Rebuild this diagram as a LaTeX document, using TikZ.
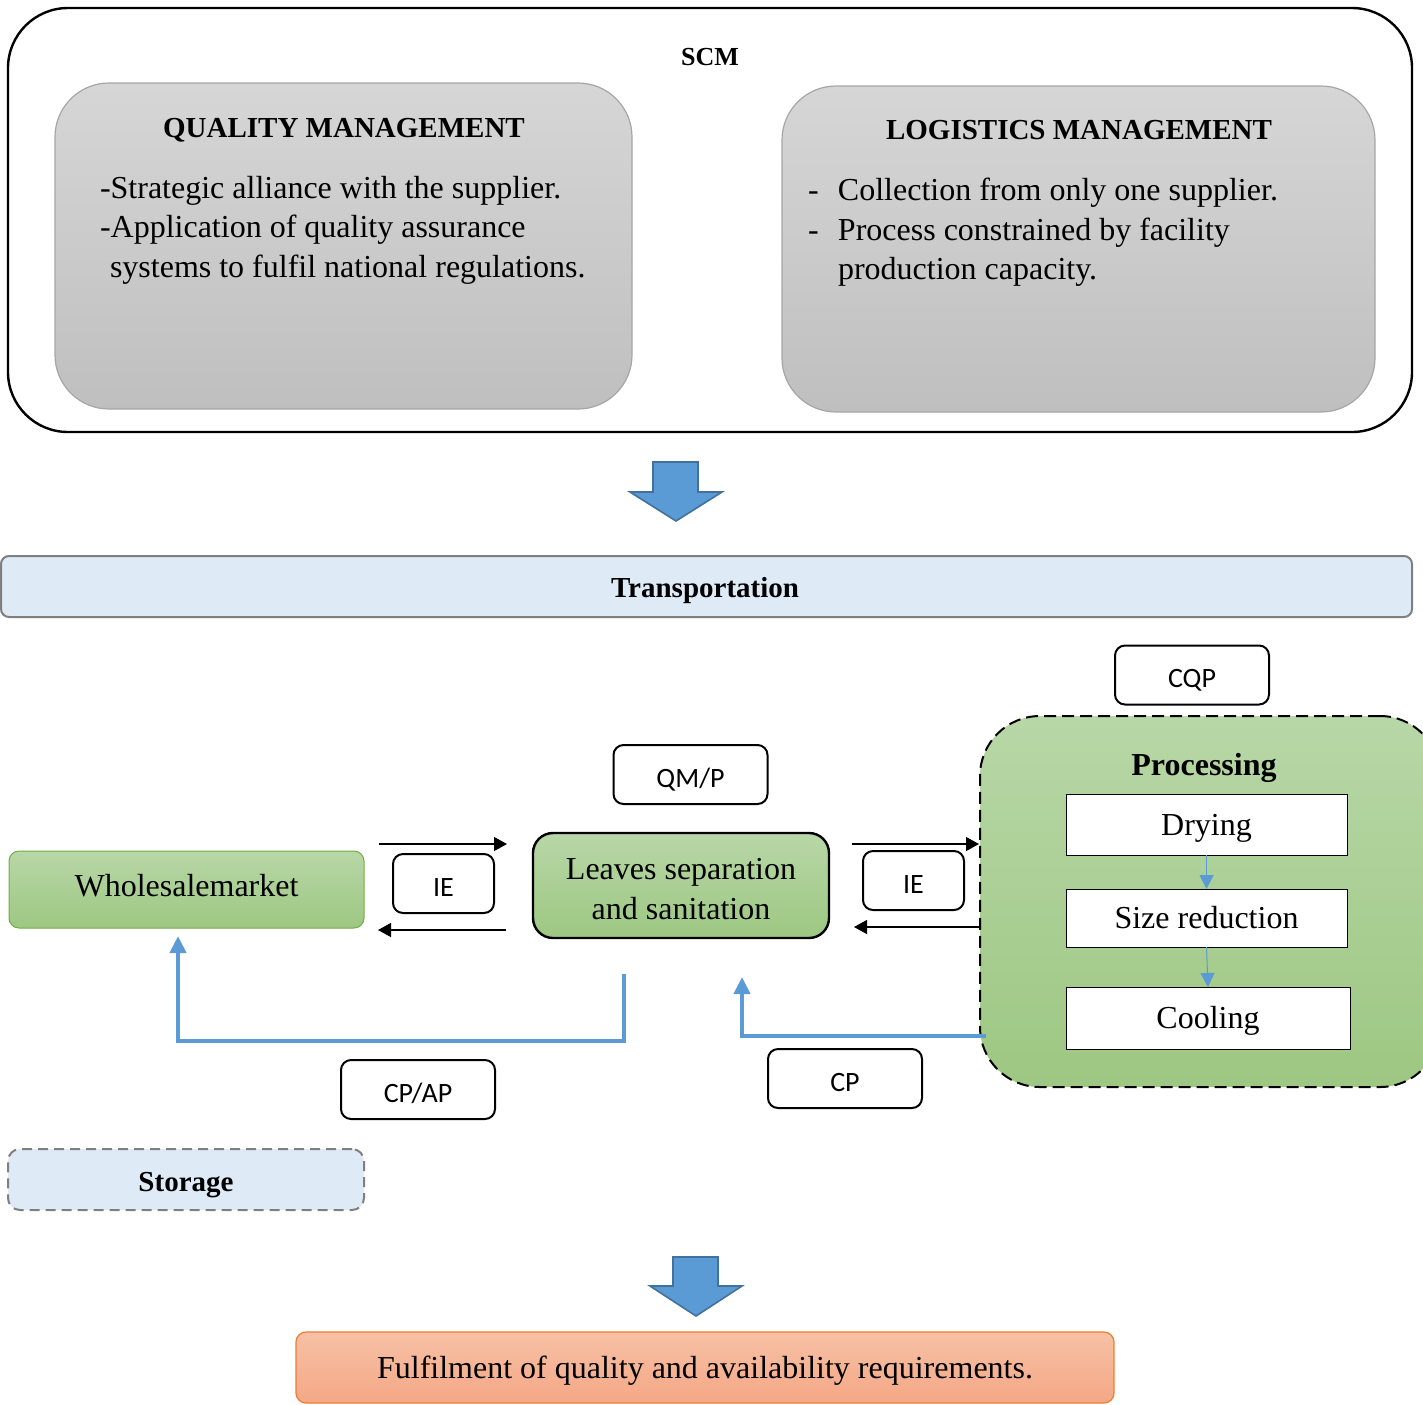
\documentclass[tikz,border=0pt]{standalone}
\usepackage{fontspec}
\setmainfont{Liberation Serif}
\newfontfamily\labfont{Carlito}
\usetikzlibrary{arrows.meta}
\definecolor{blu}{RGB}{91,155,213}
\definecolor{bluedge}{RGB}{65,113,156}
\definecolor{ltblue}{RGB}{222,234,246}
\definecolor{grtop}{RGB}{184,215,167}
\definecolor{grbot}{RGB}{157,199,130}
\definecolor{grline}{RGB}{112,173,71}
\definecolor{gytop}{RGB}{214,214,214}
\definecolor{gybot}{RGB}{191,191,191}
\definecolor{gyline}{RGB}{166,166,166}
\definecolor{ortop}{RGB}{247,192,165}
\definecolor{orbot}{RGB}{244,168,134}
\definecolor{orline}{RGB}{237,125,49}
\definecolor{frame}{RGB}{127,127,127}
\begin{document}
\begin{tikzpicture}[x=0.5pt,y=-0.5pt,
  every node/.style={inner sep=0pt,outer sep=0pt},
  txt/.style={font=\fontsize{16}{20}\selectfont, text height=11pt, text depth=0.5pt},
  ttl/.style={font=\fontsize{14.5}{18}\selectfont\bfseries, text height=10pt, text depth=0pt},
  scmbox/.style={draw=black, line width=1.2pt, rounded corners=30pt},
  graybox/.style={draw=gyline, line width=0.6pt, rounded corners=27pt, top color=gytop, bottom color=gybot},
  lab/.style={draw=black, line width=1pt, rounded corners=5pt, fill=white, minimum width=77pt, minimum height=29.5pt, font=\labfont\fontsize{14}{16}\selectfont},
  labtext/.style={font=\labfont\fontsize{14}{16}\selectfont, text height=9pt, text depth=0pt, yshift=-1.75pt},
  greenbox/.style={top color=grtop, bottom color=grbot},
  stepbox/.style={draw=black, line width=0.5pt, fill=white},
  steptext/.style={font=\fontsize{16}{20}\selectfont, text height=11pt, text depth=0.5pt},
  blk/.style={-{Triangle[length=6.5pt,width=7pt]}, line width=0.6pt, black},
  blueline/.style={-{Triangle[length=8.5pt,width=8pt]}, line width=2pt, blu},
  smallblue/.style={-{Triangle[length=7pt,width=7pt]}, line width=0.5pt, blu},
  bigarrow/.style={fill=blu, draw=bluedge, line width=0.8pt, line join=miter},
]
\useasboundingbox (0,0) rectangle (1423,1404);

% SCM frame
\node[scmbox, minimum width=702pt, minimum height=212pt] (scm) at (710,220) {};
\node[font=\fontsize{13}{15}\selectfont\bfseries, text height=9pt, text depth=0pt] (scmtitle) at (710,56) {SCM};

% Quality management
\node[graybox, minimum width=288.5pt, minimum height=163pt] (qm) at (343.5,246) {};
\node[ttl] (qmtitle) at (344,127) {QUALITY MANAGEMENT};
\node[txt, anchor=west] (qm1) at (100,188) {-Strategic alliance with the supplier.};
\node[txt, anchor=west] (qm2) at (100,227) {-Application of quality assurance};
\node[txt, anchor=west] (qm3) at (110,267) {systems to fulfil national regulations.};

% Logistics management
\node[graybox, minimum width=296.5pt, minimum height=163pt] (lm) at (1078.5,249) {};
\node[ttl] (lmtitle) at (1079,129) {LOGISTICS MANAGEMENT};
\node[txt, anchor=west] (lm1) at (808,190) {\makebox[15pt][l]{-}Collection from only one supplier.};
\node[txt, anchor=west] (lm2) at (808,230) {\makebox[15pt][l]{-}Process constrained by facility};
\node[txt, anchor=west] (lm3) at (838,269) {production capacity.};

% block arrow 1
\draw[bigarrow] (653,462) -- (698,462) -- (698,492) -- (722,492) -- (676,521) -- (630,492) -- (653,492) -- cycle;

% Transportation
\node[draw=frame, line width=1pt, rounded corners=4pt, fill=ltblue, minimum width=705.5pt, minimum height=30.5pt] (trans) at (706.5,586.5) {};
\node[ttl] (transtitle) at (705,587) {Transportation};

% Processing
\node[lab] (cqp) at (1192,675) {};
\node[labtext] (cqptext) at (cqp) {CQP};
\node[greenbox, draw=black, line width=1pt, dash pattern=on 6pt off 3pt, rounded corners=30pt, minimum width=230pt, minimum height=185.5pt] (proc) at (1210,901.5) {};
\node[font=\fontsize{16}{20}\selectfont\bfseries, text height=11pt, text depth=0pt] (proctitle) at (1204,764) {Processing};
\node[stepbox, minimum width=140.5pt, minimum height=30.5pt] (dry) at (1206.5,824.5) {};
\node[steptext] (drytext) at (dry) {Drying};
\node[stepbox, minimum width=140.5pt, minimum height=29pt] (size) at (1206.5,918) {};
\node[steptext] (sizetext) at (size) {Size reduction};
\node[stepbox, minimum width=142pt, minimum height=31pt] (cool) at (1208,1018) {};
\node[steptext] (cooltext) at (cool) {Cooling};
\draw[smallblue] (dry.south) -- (size.north);
\draw[smallblue] (size.south) -- (cool.north);

% Leaves separation
\node[lab] (qmp) at (690.5,774.5) {};
\node[labtext] (qmptext) at (qmp) {QM/P};
\node[greenbox, draw=black, line width=1.2pt, rounded corners=10pt, minimum width=148pt, minimum height=52.5pt] (leaves) at (681,885.5) {};
\node[align=center, font=\fontsize{16}{20}\selectfont, yshift=-2pt] (leavestext) at (leaves) {Leaves separation\\and sanitation};

% Wholesalemarket
\node[greenbox, draw=grline, line width=0.5pt, rounded corners=5pt, minimum width=177.5pt, minimum height=38.5pt] (whole) at (186.5,889.5) {};
\node[font=\fontsize{16}{20}\selectfont, yshift=2pt] (wholetext) at (whole) {Wholesalemarket};

% IE boxes and black arrows
\node[lab, minimum width=50.5pt] (ieL) at (443.5,883.5) {};
\node[labtext] (ieLtext) at (ieL) {IE};
\node[lab, minimum width=50.5pt] (ieR) at (913.5,880.5) {};
\node[labtext] (ieRtext) at (ieR) {IE};
\coordinate (l1s) at (379,844); \coordinate (l1e) at (507,844);
\coordinate (l2s) at (506,930); \coordinate (l2e) at (378,930);
\coordinate (r1s) at (852,844); \coordinate (r1e) at (979,844);
\coordinate (r2s) at (981,927); \coordinate (r2e) at (854,927);
\draw[blk] (l1s) -- (l1e);
\draw[blk] (l2s) -- (l2e);
\draw[blk] (r1s) -- (r1e);
\draw[blk] (r2s) -- (r2e);

% Blue connectors
\node[lab] (cpap) at (418,1089.5) {};
\node[labtext] (cpaptext) at (cpap) {CP/AP};
\node[lab] (cp) at (845,1078.5) {};
\node[labtext] (cptext) at (cp) {CP};
\coordinate (b1s) at (624,974);
\coordinate (b1e) at (178,936);
\coordinate (b2s) at (986,1036);
\coordinate (b2e) at (742,977);
\draw[blueline] (b1s) -- (624,1041) -- (178,1041) -- (b1e);
\draw[blueline] (b2s) -- (742,1036) -- (b2e);

% Storage
\node[draw=frame, line width=1pt, dash pattern=on 5pt off 3pt, rounded corners=6pt, fill=ltblue, minimum width=178pt, minimum height=30.5pt] (storage) at (186,1179.5) {};
\node[ttl] (storagetitle) at (186,1181) {Storage};

% block arrow 2
\draw[bigarrow] (673,1257) -- (718,1257) -- (718,1286) -- (742,1286) -- (696,1316) -- (650,1286) -- (673,1286) -- cycle;

% Fulfilment
\node[draw=orline, line width=0.6pt, rounded corners=5pt, top color=ortop, bottom color=orbot, minimum width=409pt, minimum height=35.5pt] (ful) at (705,1367.5) {};
\node[steptext] (fultext) at (ful) {Fulfilment of quality and availability requirements.};
\end{tikzpicture}
\end{document}
